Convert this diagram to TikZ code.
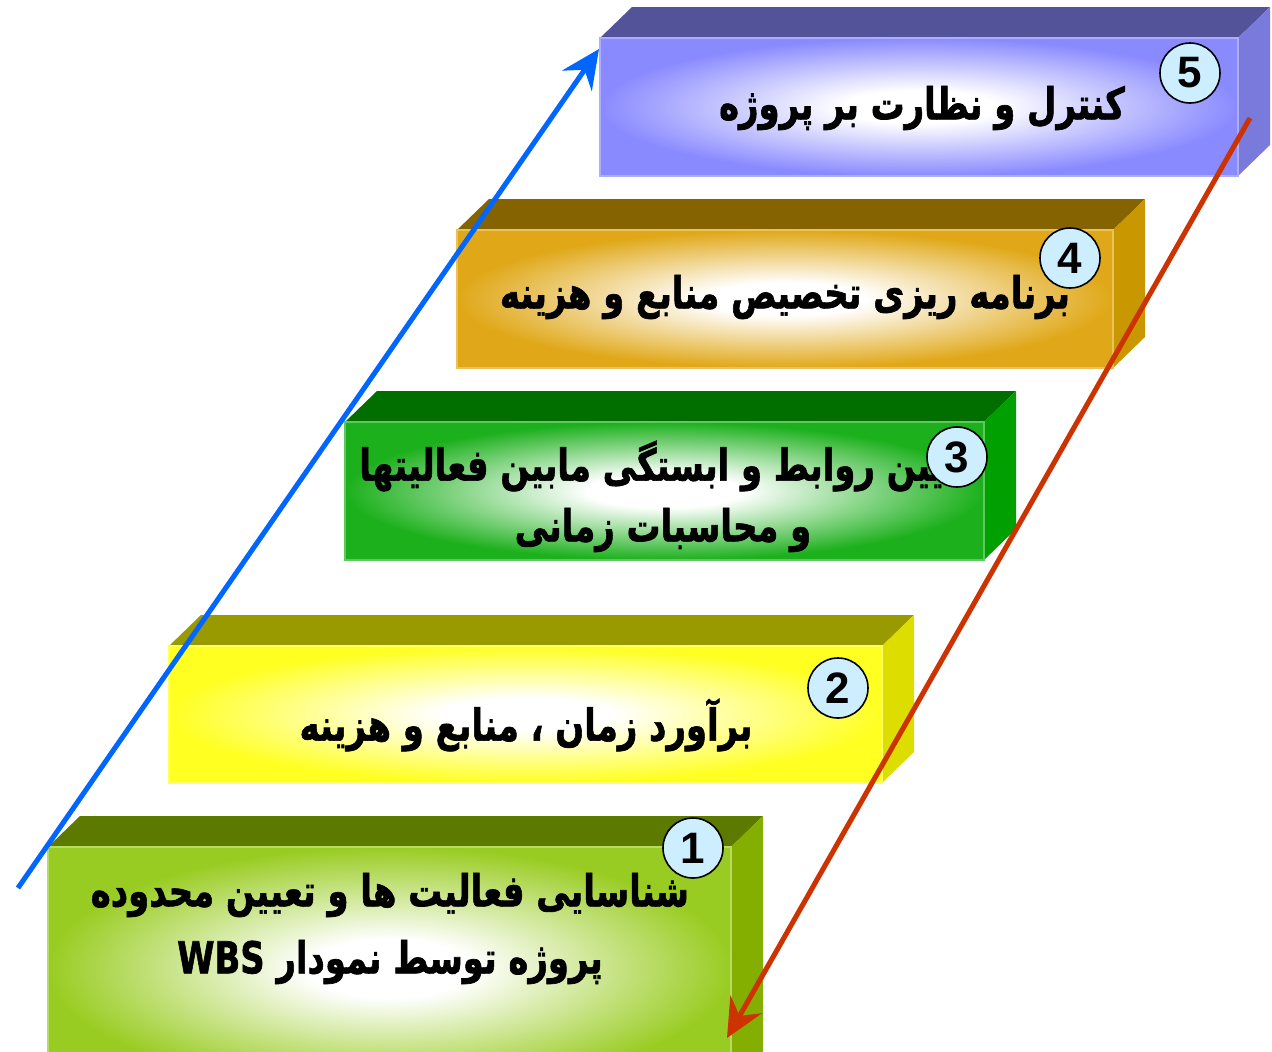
\documentclass[tikz,border=0pt]{standalone}
\usepackage{fontspec}
\usetikzlibrary{arrows.meta}
\TeXXeTstate=1
\setmainfont{Liberation Sans}
\newfontfamily\arabicfont[Script=Arabic, BoldFeatures={FakeBold=1.6}]{DejaVu Sans}

% face colours: front edge, top, side
\definecolor{frontA}{HTML}{99CC22}\definecolor{topA}{HTML}{5C7A00}\definecolor{sideA}{HTML}{84AE00}
\definecolor{frontB}{HTML}{FFFF22}\definecolor{topB}{HTML}{999900}\definecolor{sideB}{HTML}{DDDD00}
\definecolor{frontC}{HTML}{1CB01C}\definecolor{topC}{HTML}{006F00}\definecolor{sideC}{HTML}{00A000}
\definecolor{frontD}{HTML}{E0A818}\definecolor{topD}{HTML}{856400}\definecolor{sideD}{HTML}{C99700}
\definecolor{frontE}{HTML}{8A8AFF}\definecolor{topE}{HTML}{53539A}\definecolor{sideE}{HTML}{7A7ADC}
\definecolor{badge}{HTML}{CCEEFF}
\definecolor{upline}{HTML}{0066FF}
\definecolor{downline}{HTML}{CC3300}
\colorlet{frontcol}{frontA}

% glow on a front face: white core fading to the face colour
\pgfdeclareradialshading[frontcol]{slabglow}{\pgfpoint{0bp}{0bp}}{%
  color(0bp)=(white); color(6bp)=(white); color(25bp)=(frontcol); color(50bp)=(frontcol)}

% a slab: left, top, right, bottom of the front face, then colour suffix
\newcommand\slab[5]{%
  \fill[top#5] (#1,#2) -- (#1+32,#2-31) -- (#3+32,#2-31) -- (#3,#2) -- cycle;
  \fill[side#5] (#3,#2) -- (#3+32,#2-31) -- (#3+32,#4-31) -- (#3,#4) -- cycle;
  \colorlet{frontcol}{front#5}%
  \shade[shading=slabglow] (#1,#2) rectangle (#3,#4);
  \draw[front#5!70!white, line width=0.8pt] (#1,#2) rectangle (#3,#4);
}
% heavy caption lettering: narrowed and heightened
\newcommand\captext[1]{\scalebox{0.94}[1.22]{#1}}

\tikzset{
  steptext/.style={font=\arabicfont\bfseries\fontsize{27}{40}\selectfont, align=center, inner sep=0pt, text=black},
  badgenode/.style={circle, draw=black, line width=1.2pt, fill=badge, minimum size=45pt, inner sep=0pt,
    font=\bfseries\fontsize{33}{33}\selectfont},
  flow/.style={line width=3.8pt, -{Stealth[length=29pt, width=27pt, inset=10pt]}},
}

\begin{document}
\begin{tikzpicture}[x=0.75pt, y=-0.75pt]
\useasboundingbox (0,0) rectangle (1272,1051);
\clip (0,0) rectangle (1272,1051);

% the five slabs, bottom to top
\slab{48}{847}{731}{1090}{A}
\slab{169}{646}{882}{783}{B}
\slab{345}{422}{984}{560}{C}
\slab{457}{230}{1113}{368}{D}
\slab{600}{38}{1238}{176}{E}

% captions
\node[steptext] (t5) at (922,108) {\captext{\beginR کنترل و نظارت بر پروژه\endR}};
\node[steptext] (t4) at (785,297) {\captext{\beginR برنامه ریزی تخصیص منابع و هزینه\endR}};
\node[steptext] (t3a) at (668,466) {\captext{\beginR تعیین روابط و ابستگی مابین فعالیتها\endR}};
\node[steptext] (t3b) at (663,530) {\captext{\beginR و محاسبات زمانی\endR}};
\node[steptext] (t2) at (526,725) {\captext{\beginR برآورد زمان ، منابع و هزینه\endR}};
\node[steptext] (t1a) at (390,895) {\captext{\beginR شناسایی فعالیت ها و تعیین محدوده\endR}};
\node[steptext] (t1b) at (390,962) {\captext{\beginR پروژه توسط نمودار \beginL WBS\endL\endR}};

% step numbers
\node[badgenode] (n5) at (1190,73) {5};
\node[badgenode] (n4) at (1070,258) {4};
\node[badgenode] (n3) at (957,457) {3};
\node[badgenode] (n2) at (838,688) {2};
\node[badgenode] (n1) at (693,848) {1};

% rising and falling arrows
\coordinate (upstart) at (18,888);
\coordinate (upend) at (599,49);
\coordinate (downstart) at (1250,118);
\coordinate (downend) at (727,1038);
\draw[flow, upline] (upstart) -- (upend);
\draw[flow, downline] (downstart) -- (downend);
\end{tikzpicture}
\end{document}
